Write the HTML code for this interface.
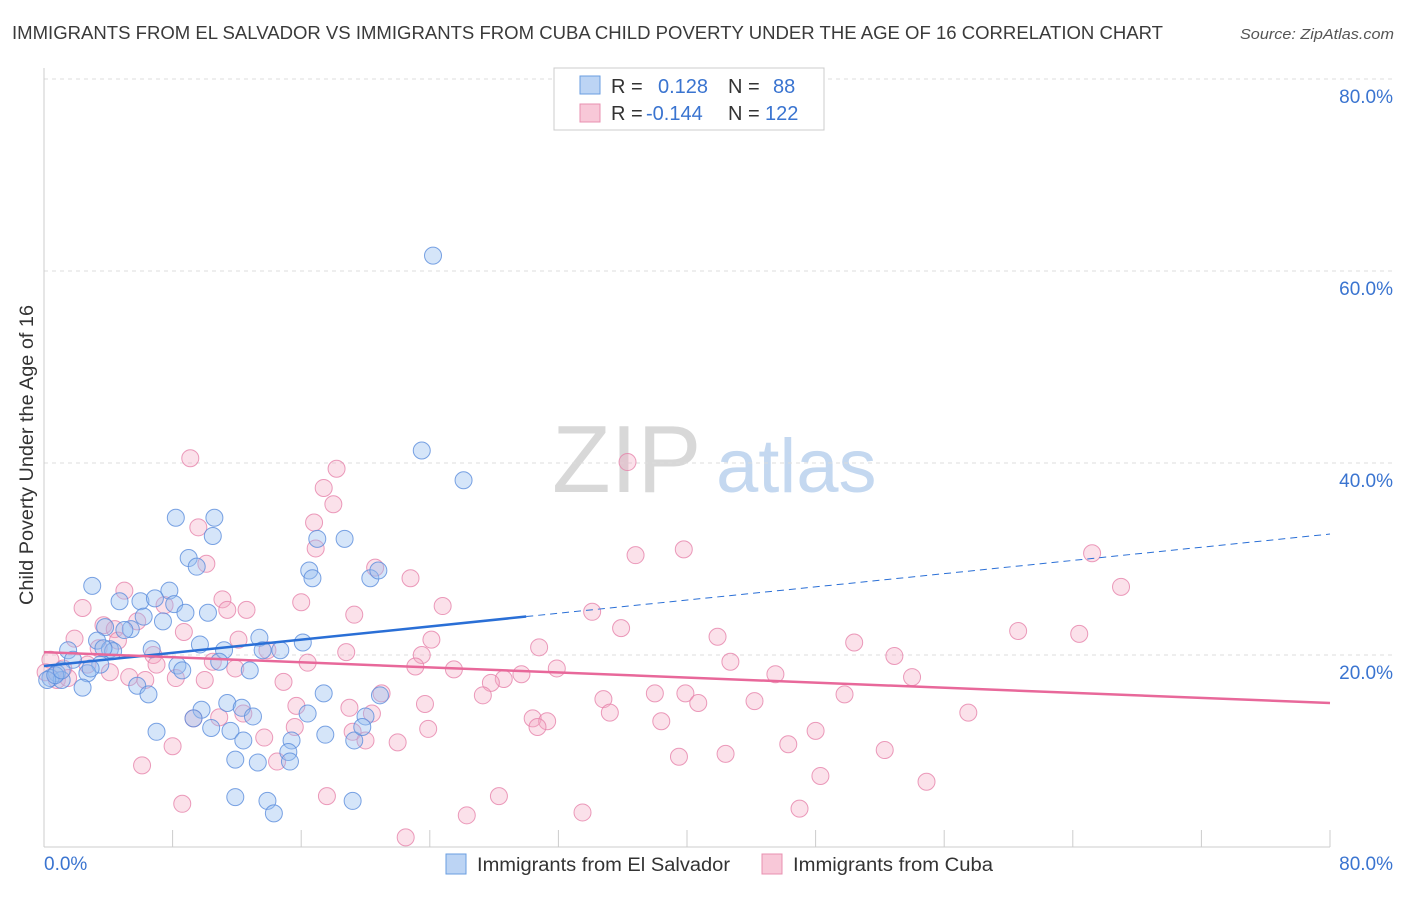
<!DOCTYPE html>
<html><head><meta charset="utf-8">
<style>
body{margin:0;background:#fff;font-family:"Liberation Sans",sans-serif;}
svg text{font-family:"Liberation Sans",sans-serif;}
</style></head>
<body>
<svg id="chart" width="1406" height="892" viewBox="0 0 1406 892">
<text x="12" y="39" font-size="18" fill="#3a3a3a" textLength="1151" lengthAdjust="spacingAndGlyphs">IMMIGRANTS FROM EL SALVADOR VS IMMIGRANTS FROM CUBA CHILD POVERTY UNDER THE AGE OF 16 CORRELATION CHART</text>
<text x="1394" y="39" font-size="15" fill="#555" font-style="italic" text-anchor="end" textLength="154" lengthAdjust="spacingAndGlyphs">Source: ZipAtlas.com</text>
<g>
<text x="552" y="492" font-size="96" font-family="Liberation Serif,serif" fill="#d8d8d8">ZIP</text>
<text x="716" y="492" font-size="76" fill="#c4d8f0">atlas</text>
</g>
<g id="grid"></g>
<g id="axes"></g>
<g id="points"></g>
<g id="trends"></g>
<text x="33" y="455" font-size="19" fill="#333" text-anchor="middle" textLength="300" lengthAdjust="spacingAndGlyphs" transform="rotate(-90 33 455)">Child Poverty Under the Age of 16</text>
<g>
<rect x="554" y="68" width="270" height="62" fill="#fff" stroke="#ccc"/>
<rect x="580" y="76" width="20" height="18" fill="#bcd4f4" stroke="#6a9ee0"/>
<rect x="580" y="104" width="20" height="18" fill="#f8c8d8" stroke="#e890b0"/>
<text x="611" y="93" font-size="20" fill="#333">R =</text>
<text x="658" y="93" font-size="20" fill="#3a74d0">0.128</text>
<text x="728" y="93" font-size="20" fill="#333">N =</text>
<text x="773" y="93" font-size="20" fill="#3a74d0">88</text>
<text x="611" y="120" font-size="20" fill="#333">R =</text>
<text x="646" y="120" font-size="20" fill="#3a74d0">-0.144</text>
<text x="728" y="120" font-size="20" fill="#333">N =</text>
<text x="765" y="120" font-size="20" fill="#3a74d0">122</text>
</g>
<g>
<rect x="446" y="854" width="20" height="20" fill="#bcd4f4" stroke="#6a9ee0"/>
<text x="477" y="871" font-size="19" fill="#333" textLength="253" lengthAdjust="spacingAndGlyphs">Immigrants from El Salvador</text>
<rect x="762" y="854" width="20" height="20" fill="#f8c8d8" stroke="#e890b0"/>
<text x="793" y="871" font-size="19" fill="#333" textLength="200" lengthAdjust="spacingAndGlyphs">Immigrants from Cuba</text>
</g>
</svg>
<script>
const yTicks=[20,40,60,80];
const yTickLabels=["20.0%","40.0%","60.0%","80.0%"];
const xEndLabels=["0.0%","80.0%"];
const salvadorX=[24.2,23.5,26.1,8.2,10.6,10.5,17.0,18.7,9.0,9.5,16.5,16.7,20.3,20.8,3.0,7.8,4.7,6.0,6.9,8.1,8.8,7.4,10.2,6.2,3.8,5.4,5.0,3.3,4.1,4.3,6.7,9.7,13.4,16.1,11.2,13.6,14.7,1.5,1.8,3.5,2.7,8.3,8.6,10.9,12.8,0.8,0.4,1.1,2.4,5.8,6.5,17.4,20.9,11.4,12.3,9.8,16.4,9.3,13.0,20.0,7.0,11.6,10.4,17.5,12.4,15.4,19.3,19.8,15.2,11.9,13.3,15.3,11.9,13.9,19.2,14.3,0.2,0.7,2.9,3.7,1.1];
const salvadorY=[61.6,41.3,38.2,34.3,34.3,32.4,32.1,32.1,30.1,29.2,28.8,28.0,28.0,28.8,27.2,26.7,25.6,25.6,25.9,25.3,24.4,23.5,24.4,24.0,22.9,22.7,22.6,21.5,20.6,20.4,20.6,21.1,21.8,21.3,20.5,20.5,20.5,20.5,19.5,19.0,18.1,18.9,18.4,19.3,18.4,18.1,17.6,17.4,16.6,16.8,15.9,16.0,15.8,15.0,14.5,14.3,13.9,13.4,13.6,13.6,12.0,12.1,12.4,11.7,11.1,11.1,11.1,12.5,9.9,9.1,8.8,8.9,5.2,4.8,4.8,3.5,17.4,17.9,18.6,20.7,18.4];
const cubaX=[9.1,18.2,36.3,17.4,18.0,16.8,9.6,16.9,39.8,36.8,65.2,10.1,20.6,22.8,5.0,67.0,11.1,2.4,7.5,16.0,24.8,12.6,11.4,19.3,34.1,3.7,5.8,4.4,8.7,35.9,60.6,64.4,1.9,4.6,12.1,24.1,41.9,50.4,30.8,3.4,6.8,13.9,18.8,52.9,23.5,42.7,7.0,10.5,16.4,25.5,23.1,31.9,1.2,0.1,0.4,45.5,54.0,5.3,6.3,8.2,10.0,11.9,14.9,29.7,28.6,27.8,38.0,39.9,49.8,34.8,40.7,44.2,21.0,23.7,27.3,15.7,19.0,10.9,9.3,12.4,20.4,35.2,57.5,30.4,31.3,30.7,38.4,15.6,23.9,19.2,48.0,13.7,20.0,8.0,22.0,46.3,52.3,42.4,39.5,6.1,14.5,48.3,54.9,8.6,17.6,28.3,33.5,47.0,26.3,22.5,0.8,1.5,2.7,4.1];
const cubaY=[40.5,39.4,40.1,37.4,35.7,33.8,33.3,31.1,31.0,30.4,30.6,29.5,29.1,28.0,26.7,27.1,25.8,24.9,25.2,25.5,25.1,24.7,24.7,24.2,24.5,23.1,23.5,22.7,22.4,22.8,22.5,22.2,21.7,21.5,21.6,21.6,21.9,21.3,20.8,20.7,20.0,20.5,20.3,19.9,20.0,19.3,19.0,19.3,19.2,18.5,18.8,18.6,18.6,18.2,19.5,18.0,17.7,17.7,17.4,17.6,17.4,18.6,17.2,18.0,17.5,17.1,16.0,16.0,15.9,15.4,15.0,15.2,16.0,14.9,15.8,14.7,14.5,13.5,13.4,13.9,13.9,14.0,14.0,13.4,13.1,12.5,13.1,12.5,12.3,12.0,12.1,11.4,11.1,10.5,10.9,10.7,10.1,9.7,9.4,8.5,8.9,7.4,6.8,4.5,5.3,5.3,3.6,4.0,3.3,1.0,17.4,17.6,19.0,18.2];
const salvadorTrend=[18.85,32.6];
const salvadorSolidEnd=30.0;
const cubaTrend=[20.3,15.0];

const NS="http://www.w3.org/2000/svg";
const X0=44,X1=1330,Y0=847,Y1=79;
const xs=v=>X0+(v/80)*(X1-X0);
const ys=v=>Y0-(v/80)*(Y0-Y1);
function mk(tag,attrs,parent){const e=document.createElementNS(NS,tag);for(const k in attrs)e.setAttribute(k,attrs[k]);document.getElementById(parent).appendChild(e);return e;}

yTicks.forEach((t,i)=>{
  const g=mk('line',{x1:X0,x2:1394,y1:ys(t),y2:ys(t),stroke:'#ddd','stroke-dasharray':'4,4'},'grid');
  
  
  const tx=mk('text',{x:1393,y:ys(t)+24,'font-size':19,fill:'#3a74d0','text-anchor':'end'},'axes');
  tx.textContent=yTickLabels[i];
  
  
});
const ax=mk('line',{x1:X0,x2:X0,y1:68,y2:Y0,stroke:'#ccc'},'axes');


const bx=mk('line',{x1:X0,x2:X1,y1:Y0,y2:Y0,stroke:'#ccc'},'axes');


for(let i=0;i<=10;i++){
  const t=mk('line',{x1:xs(i*8),x2:xs(i*8),y1:Y0,y2:Y0-17,stroke:'#ccc'},'axes');
  
  
}
const xl0=mk('text',{x:44,y:870,'font-size':19,fill:'#3a74d0'},'axes');
xl0.textContent=xEndLabels[0];


const xl1=mk('text',{x:1393,y:870,'font-size':19,fill:'#3a74d0','text-anchor':'end'},'axes');
xl1.textContent=xEndLabels[1];



cubaX.forEach((x,i)=>{
  const c=mk('circle',{cx:xs(x),cy:ys(cubaY[i]),r:8.5,fill:'rgba(244,170,196,0.35)',stroke:'rgba(230,130,170,0.8)','stroke-width':1},'points');
  
  
});
salvadorX.forEach((x,i)=>{
  const c=mk('circle',{cx:xs(x),cy:ys(salvadorY[i]),r:8.5,fill:'rgba(150,190,240,0.4)',stroke:'rgba(90,140,220,0.8)','stroke-width':1},'points');
  
  
});
const sv=x=>salvadorTrend[0]+(salvadorTrend[1]-salvadorTrend[0])*x/80;
const l1=mk('line',{x1:xs(0),y1:ys(sv(0)),x2:xs(salvadorSolidEnd),y2:ys(sv(salvadorSolidEnd)),stroke:'#2a6fd6','stroke-width':2.5},'trends');


const l2=mk('line',{x1:xs(salvadorSolidEnd),y1:ys(sv(salvadorSolidEnd)),x2:xs(80),y2:ys(sv(80)),stroke:'#2a6fd6','stroke-width':1,'stroke-dasharray':'7,5'},'trends');


const l3=mk('line',{x1:xs(0),y1:ys(cubaTrend[0]),x2:xs(80),y2:ys(cubaTrend[1]),stroke:'#e8689a','stroke-width':2.5},'trends');


</script>
</body></html>
